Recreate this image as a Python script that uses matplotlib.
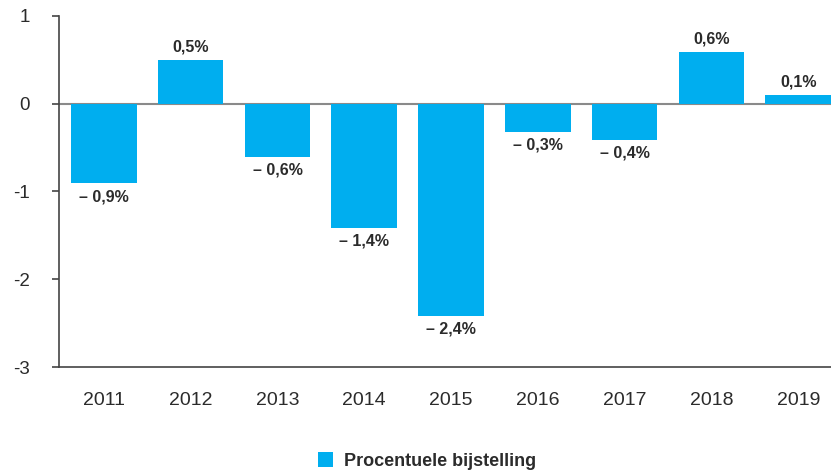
import matplotlib
matplotlib.use("Agg")
import matplotlib.pyplot as plt
from matplotlib.patches import Patch

years = ["2011", "2012", "2013", "2014", "2015", "2016", "2017", "2018", "2019"]
values = [-0.91, 0.49, -0.61, -1.42, -2.42, -0.32, -0.41, 0.59, 0.10]
labels = ["– 0,9%", "0,5%", "– 0,6%", "– 1,4%", "– 2,4%", "– 0,3%", "– 0,4%", "0,6%", "0,1%"]
yticks = [1, 0, -1, -2, -3]
legend_label = "Procentuele bijstelling"

plt.rcParams['font.family'] = ['Liberation Sans', 'DejaVu Sans']
bar_color = "#00AEEF"
text_color = "#2b2b2b"

fig = plt.figure(figsize=(8.31, 4.71), dpi=100)
ax = fig.add_axes([59/831, 104/471, 772/831, (367-15.7)/471])

x = list(range(len(years)))
bars = ax.bar(x, values, width=0.755, color=bar_color, zorder=3)
ax.axhline(0, color="#8a8a8a", lw=1.5, zorder=2)

for xi, v, lab in zip(x, values, labels):
    if v >= 0:
        ax.annotate(lab, (xi, v), xytext=(0, 4), textcoords="offset points",
                    ha="center", va="bottom", fontsize=11.5, fontweight="bold", color=text_color)
    else:
        ax.annotate(lab, (xi, v), xytext=(0, -4), textcoords="offset points",
                    ha="center", va="top", fontsize=11.5, fontweight="bold", color=text_color)

ax.set_xlim(-0.517, 8.378)
ax.set_ylim(-3, 1)
ax.set_yticks(yticks)
ax.set_yticklabels([str(t) for t in yticks])
ax.set_xticks(x)
ax.set_xticklabels(years)

for s in ["top", "right"]:
    ax.spines[s].set_visible(False)
for s in ["left", "bottom"]:
    ax.spines[s].set_color("#444444")
    ax.spines[s].set_linewidth(1.2)

ax.tick_params(axis="y", length=5, width=1.2, color="#444444", pad=16, labelsize=13.5, labelcolor=text_color)
ax.tick_params(axis="x", length=0, pad=18, labelsize=14, labelcolor=text_color)

handle = Patch(facecolor=bar_color, edgecolor="none")
leg = fig.legend([handle], [legend_label], loc="center", bbox_to_anchor=(427/831, 1 - 461/471),
                 frameon=False, prop={"weight": "bold", "size": 13}, handlelength=0.85,
                 handleheight=0.85, handletextpad=0.6)
for t in leg.get_texts():
    t.set_color(text_color)

fig.savefig("out.png", dpi=100)
